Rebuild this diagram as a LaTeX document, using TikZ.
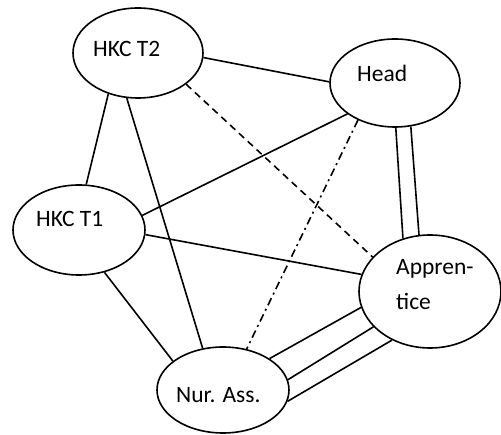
\documentclass[tikz,border=0pt]{standalone}
\usepackage{fontspec}
\setmainfont{Carlito}
\usetikzlibrary{shapes.geometric}
\begin{document}
\begin{tikzpicture}[x=1pt,y=-1pt,
  ell/.style={draw, ellipse, line width=1.6pt, inner sep=0pt},
  lbl/.style={anchor=base west, inner sep=0pt, font=\fontsize{23.5}{28}\selectfont},
  edge/.style={line width=1.6pt},
  dsh/.style={edge, dash pattern=on 7pt off 5pt},
  dd/.style={edge, dash pattern=on 8pt off 4pt on 2pt off 4pt}]
\useasboundingbox (0,0) rectangle (501,435);
\clip (0,0) rectangle (501,435);
\node[ell, minimum width=130pt, minimum height=90pt] (t2) at (138,53) {};
\node[ell, minimum width=130pt, minimum height=88pt] (head) at (395,83) {};
\node[ell, minimum width=132pt, minimum height=90pt] (t1) at (79,230) {};
\node[ell, minimum width=132pt, minimum height=86pt] (nur) at (223,390) {};
\node[ell, minimum width=142pt, minimum height=113pt] (app) at (430,291.5) {};
\node[lbl] (t2l) at (93,57) {HKC T2};
\node[lbl] (headl) at (357,82) {Head};
\node[lbl] (t1l) at (36,227) {HKC T1};
\node[lbl] (nurl) at (176,403) {Nur. Ass.};
\node[lbl] (appl1) at (396,275) {Appren-};
\node[lbl] (appl2) at (396,310) {tice};
\draw[edge] (t2.356) -- (head.179);
\draw[edge] (t2.234) -- (t1.81);
\draw[edge] (t2.256) -- (nur.116);
\draw[dsh] (t2.327) -- (app.149);
\draw[edge] (head.213) -- (t1.13);
\draw[dd] (head.225) -- (nur.60);
\draw[edge] (head.271) -- (app.117);
\draw[edge] (head.290) -- (app.101);
\draw[edge] (t1.356) -- (app.166);
\draw[edge] (t1.301) -- (nur.150);
\draw[edge] (app.193) -- (nur.34);
\draw[edge] (app.212) -- (nur.9);
\draw[edge] (app.232) -- (nur.350);
\end{tikzpicture}
\end{document}
